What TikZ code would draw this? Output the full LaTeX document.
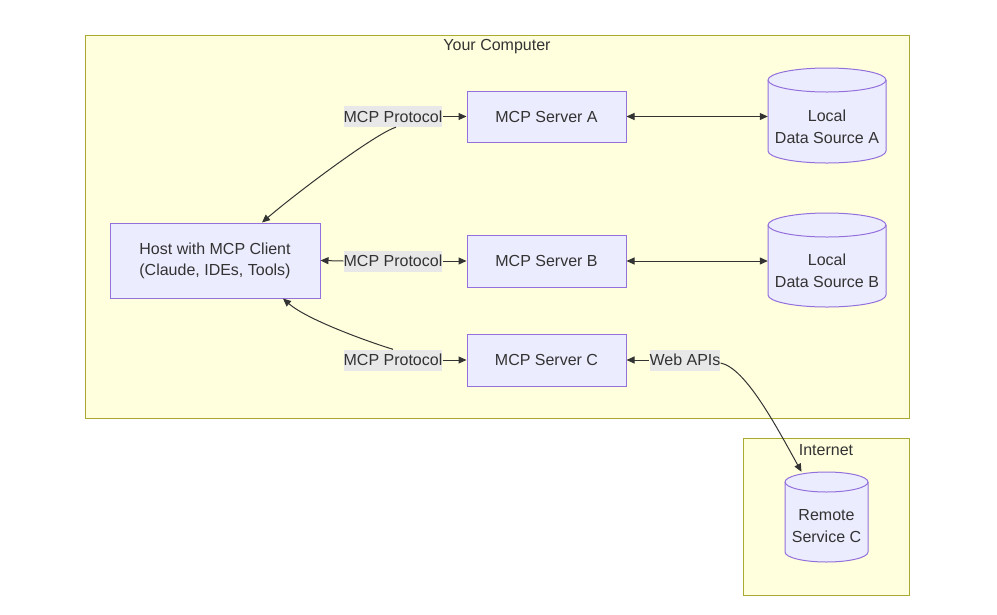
\documentclass[tikz,border=0pt]{standalone}
\usepackage{fontspec}
\setmainfont{Liberation Sans}
\usetikzlibrary{arrows.meta,calc}
\definecolor{txtc}{HTML}{333333}
\definecolor{clfill}{HTML}{FFFFDE}
\definecolor{cldraw}{HTML}{AAAA33}
\definecolor{ndfill}{HTML}{ECECFF}
\definecolor{nddraw}{HTML}{9370DB}
\definecolor{lblbg}{HTML}{E8E8E8}
% cylinder outline: cx, top, bottom, rx, ry (user coords, y downward)
\newcommand\cylshape[5]{%
  \draw[cylst] (#1-#4,#2+#5) -- (#1-#4,#3-#5)
    arc[start angle=180,end angle=0,x radius=#4,y radius=#5]
    -- (#1+#4,#2+#5)
    arc[start angle=0,end angle=-180,x radius=#4,y radius=#5] -- cycle;
  \draw[cylst,fill=none] (#1-#4,#2+#5)
    arc[start angle=180,end angle=0,x radius=#4,y radius=#5];
}
\begin{document}
\begin{tikzpicture}[x=1pt,y=-1pt,
  font=\fontsize{16}{22}\selectfont, text=txtc,
  cluster/.style={draw=cldraw, fill=clfill, line width=1pt, inner sep=0pt},
  cltitle/.style={inner sep=0pt},
  box/.style={draw=nddraw, fill=ndfill, line width=1pt, inner sep=0pt, align=center},
  cylnode/.style={inner sep=0pt},
  cyltext/.style={inner sep=0pt, align=center},
  cylst/.style={draw=nddraw, fill=ndfill, line width=1pt},
  elabel/.style={fill=lblbg, inner xsep=0pt, inner ysep=0pt, minimum height=21pt},
  link/.style={draw=txtc, line width=1pt},
  arrowend/.style={-{Triangle[length=8pt,width=7pt]}},
  arrowstart/.style={{Triangle[length=8pt,width=7pt]}-},
  arrowboth/.style={{Triangle[length=8pt,width=7pt]}-{Triangle[length=8pt,width=7pt]}}
]
\fill[white] (0,0) rectangle (997,614);
\useasboundingbox (0,0) rectangle (997,614);

% clusters
\node[cluster, minimum width=824pt, minimum height=383pt] (comp) at (497,226.5) {};
\node[cltitle] (comptitle) at (497,47) {Your Computer};
\node[cluster, minimum width=166pt, minimum height=157pt] (inet) at (826,516.5) {};
\node[cltitle] (inettitle) at (826,450) {Internet};

% cylinders
\cylshape{827}{68}{163}{59}{12}
\cylshape{827}{213}{307}{59}{12}
\cylshape{826.5}{472}{562}{41.5}{10}
\node[cylnode, minimum width=118pt, minimum height=95pt] (dsa) at (827,115.5) {};
\node[cyltext] (dsatext) at (827,126.5) {Local\\Data Source A};
\node[cylnode, minimum width=118pt, minimum height=94pt] (dsb) at (827,260) {};
\node[cyltext] (dsbtext) at (827,271) {Local\\Data Source B};
\node[cylnode, minimum width=83pt, minimum height=90pt] (rem) at (826.5,517) {};
\node[cyltext] (remtext) at (826.5,526.5) {Remote\\Service C};

% boxes
\node[box, minimum width=210pt, minimum height=75pt] (host) at (215,260.5) {\raisebox{-2pt}{\begin{tabular}{@{}c@{}}Host with MCP Client\\[-1pt](Claude, IDEs, Tools)\end{tabular}}};
\node[box, minimum width=159pt, minimum height=51pt] (srvA) at (546.5,116.5) {MCP Server A};
\node[box, minimum width=159pt, minimum height=52pt] (srvB) at (546.5,261) {MCP Server B};
\node[box, minimum width=159pt, minimum height=52pt] (srvC) at (546.5,360) {MCP Server C};

% edge labels
\node[elabel] (lblA) at (393,116.5) {MCP Protocol};
\node[elabel] (lblB) at (393,261) {MCP Protocol};
\node[elabel] (lblC) at (393,360) {MCP Protocol};
\node[elabel] (lblW) at (685,360) {Web APIs};

% connectors
\draw[link,arrowend] ($(lblA.south)+(3,0)$) .. controls +(-20,6) and +(35,-30) .. ($(host.north)+(47,0)$);
\draw[link,arrowend] (lblA.east) -- (srvA.west);
\draw[link,arrowstart] (host.east) -- (lblB.west);
\draw[link,arrowend] (lblB.east) -- (srvB.west);
\draw[link,arrowend] (lblC.north) .. controls +(-20,-6) and +(25,22) .. ($(host.south)+(68,0)$);
\draw[link,arrowend] (lblC.east) -- (srvC.west);
\draw[link,arrowboth] (srvA.east) -- (srvA.east -| dsa.west);
\draw[link,arrowboth] (srvB.east) -- (srvB.east -| dsb.west);
\draw[link,arrowstart] (srvC.east) -- (lblW.west);
\draw[link,arrowend] ($(lblW.east)+(0,3)$) .. controls +(25,5) and +(-25,-45) .. ($(rem.north)+(-25,0)$);
\end{tikzpicture}
\end{document}
